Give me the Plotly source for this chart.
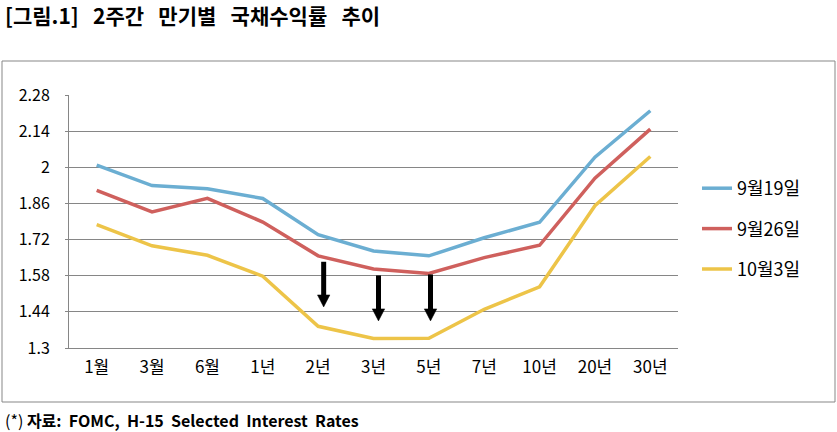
import plotly.graph_objects as go

categories = ["1월", "3월", "6월", "1년", "2년", "3년", "5년", "7년", "10년", "20년", "30년"]
sep19 = [2.008, 1.929, 1.917, 1.879, 1.739, 1.676, 1.657, 1.727, 1.787, 2.039, 2.219]
sep26 = [1.911, 1.827, 1.880, 1.788, 1.657, 1.606, 1.589, 1.650, 1.698, 1.958, 2.148]
oct03 = [1.778, 1.696, 1.659, 1.578, 1.384, 1.337, 1.338, 1.450, 1.537, 1.851, 2.042]
series_names = ["9월19일", "9월26일", "10월3일"]
y_ticks = [1.3, 1.44, 1.58, 1.72, 1.86, 2.0, 2.14, 2.28]
y_tick_text = ["1.3", "1.44", "1.58", "1.72", "1.86", "2", "2.14", "2.28"]

# decorative down arrows (category index, tail value, head value)
arrows = [(4.1, 1.634, 1.459), (5.09, 1.581, 1.405), (6.03, 1.585, 1.405)]

colors = ["#6BAED2", "#CF605D", "#EDC448"]
KFONT = "Noto Sans CJK KR"

fig = go.Figure()
for i, (name, vals) in enumerate(zip(series_names, [sep19, sep26, oct03])):
    fig.add_trace(go.Scatter(
        x=categories, y=vals, mode="lines", name=name, legendgroup=f"g{i}",
        line=dict(color=colors[i], width=3.5),
    ))

# arrow geometry: head ~12px wide and ~12px long, converted to axis units
plot_w, plot_h = 609, 253
cat_px = plot_w / len(categories)
val_px = plot_h / (y_ticks[-1] - y_ticks[0])
head_half_w = 6.2 / cat_px
head_len = 12 / val_px

shapes = [dict(
    type="rect", xref="paper", yref="paper",
    x0=(2 - 69) / 609, x1=(835 - 69) / 609,
    y0=(348 - 402) / 253, y1=(348 - 61) / 253,
    line=dict(color="#878787", width=1), layer="below",
)]
for xi, ytail, yhead in arrows:
    shapes.append(dict(
        type="line", xref="x", yref="y", x0=xi, x1=xi, y0=ytail, y1=yhead + head_len * 0.8,
        line=dict(color="#000000", width=5),
    ))
    shapes.append(dict(
        type="path", xref="x", yref="y",
        path=f"M {xi - head_half_w},{yhead + head_len} L {xi + head_half_w},{yhead + head_len} L {xi},{yhead} Z",
        fillcolor="#000000", line=dict(color="#000000", width=0.5),
    ))

annotations = []
NB = "\u00a0\u00a0\u00a0"
annotations.append(dict(
    text="<b>[그림.1]" + NB + "2주간" + NB + "만기별" + NB + "국채수익률" + NB + "추이</b>",
    xref="paper", yref="paper", x=(3 - 69) / 609, y=(348 + 2) / 253,
    xanchor="left", yanchor="top", showarrow=False,
    font=dict(family=KFONT, size=21, color="#000000"),
))
NB2 = "\u00a0\u00a0"
annotations.append(dict(
    text="(*) <b>자료:" + NB2 + "FOMC," + NB2 + "H-15" + NB2 + "Selected" + NB2 + "Interest" + NB2 + "Rates</b>",
    xref="paper", yref="paper", x=(3 - 69) / 609, y=(348 - 420) / 253,
    xanchor="left", yanchor="middle", showarrow=False,
    font=dict(family=KFONT, size=16, color="#000000"),
))

fig.update_layout(
    width=837, height=432,
    margin=dict(l=69, r=159, t=95, b=84),
    paper_bgcolor="white", plot_bgcolor="white",
    font=dict(family=KFONT, color="#000000"),
    showlegend=True,
    legend=dict(
        x=(697 - 69) / 609, y=(348 - 170) / 253, xanchor="left", yanchor="top",
        font=dict(family=KFONT, size=18, color="#000000"),
        itemwidth=30, tracegroupgap=14, bgcolor="rgba(0,0,0,0)",
    ),
    annotations=annotations,
    shapes=shapes,
)
fig.update_xaxes(
    type="category", range=[-0.5, len(categories) - 0.5],
    showgrid=False, showline=True, linecolor="#868686", linewidth=1,
    ticks="", tickfont=dict(family=KFONT, size=17, color="#000000"),
    ticklabelstandoff=4,
)
fig.update_yaxes(
    range=[1.3, 2.28], tickvals=y_ticks, ticktext=y_tick_text,
    showgrid=True, gridcolor="#868686", gridwidth=1, zeroline=False,
    showline=True, linecolor="#868686", linewidth=1,
    ticks="outside", ticklen=3, tickcolor="#868686",
    tickfont=dict(family=KFONT, size=16, color="#000000"),
    ticklabelstandoff=12,
)
fig.write_html(
    "out.html",
    config={"displayModeBar": False},
    post_script="document.body.style.margin='0';document.body.style.padding='0';",
)
